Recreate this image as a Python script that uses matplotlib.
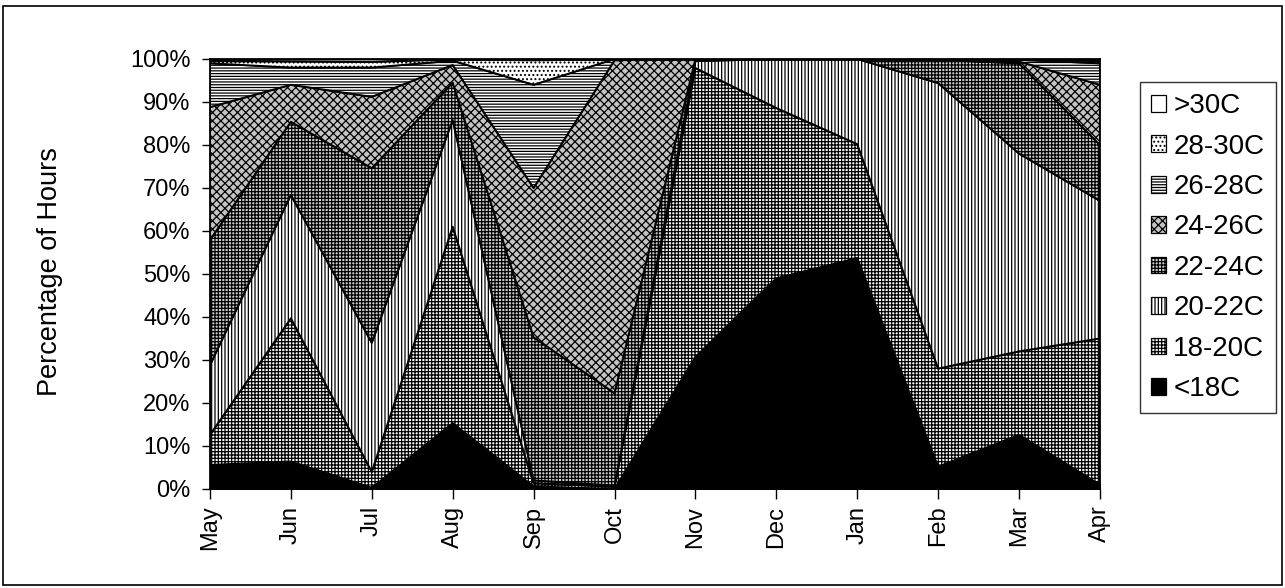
import numpy as np
import matplotlib
matplotlib.use("Agg")
import matplotlib.pyplot as plt
from matplotlib.patches import Patch, Rectangle
from matplotlib.ticker import PercentFormatter

plt.rcParams["font.family"] = ["Liberation Sans", "DejaVu Sans"]
plt.rcParams["hatch.linewidth"] = 0.9
plt.rcParams["hatch.color"] = "black"

months = ["May", "Jun", "Jul", "Aug", "Sep", "Oct",
          "Nov", "Dec", "Jan", "Feb", "Mar", "Apr"]

# share of hours (%) in each temperature band, per month
below_18 = [5.6, 6.4, 0.3, 15.3, 0.6, 0.0, 30.7, 49.0, 53.7, 5.2, 12.6, 1.0]
band_18_20 = [7.0, 33.3, 3.7, 45.7, 0.8, 0.5, 67.2, 39.6, 26.5, 22.8, 19.4, 34.0]
band_20_22 = [16.2, 28.7, 30.0, 24.8, 0.6, 0.3, 1.6, 11.4, 19.8, 66.4, 46.0, 32.0]
band_22_24 = [29.1, 17.0, 40.6, 8.7, 33.3, 21.5, 0.5, 0.0, 0.0, 5.4, 21.0, 13.0]
band_24_26 = [30.9, 8.6, 16.6, 4.1, 34.7, 77.4, 0.0, 0.0, 0.0, 0.2, 0.4, 14.0]
band_26_28 = [10.2, 4.0, 6.8, 1.0, 24.0, 0.3, 0.0, 0.0, 0.0, 0.0, 0.4, 5.0]
band_28_30 = [0.6, 1.5, 1.4, 0.4, 5.8, 0.0, 0.0, 0.0, 0.0, 0.0, 0.2, 0.6]
above_30 = [0.4, 0.5, 0.6, 0.0, 0.2, 0.0, 0.0, 0.0, 0.0, 0.0, 0.0, 0.4]

labels = ["<18C", "18-20C", "20-22C", "22-24C", "24-26C", "26-28C", "28-30C", ">30C"]
series = [below_18, band_18_20, band_20_22, band_22_24,
          band_24_26, band_26_28, band_28_30, above_30]

# fill style per band: (face colour, hatch)
styles = [
    ("black", None),
    ("white", "+++++"),
    ("white", "|||||"),
    ("#d0d0d0", "+++++"),
    ("#c4c4c4", "xxxx"),
    ("white", "------"),
    ("white", "...."),
    ("white", None),
]

fig = plt.figure(figsize=(12.85, 5.88), dpi=100)
ax = fig.add_axes([0.1634, 0.1684, 0.6926, 0.7313])

x = np.arange(len(months))
data = np.array(series, dtype=float)
data = data / data.sum(axis=0) * 100.0
cum = np.vstack([np.zeros(len(months)), np.cumsum(data, axis=0)])

for i, (face, hatch) in enumerate(styles):
    ax.fill_between(x, cum[i], cum[i + 1], facecolor=face, hatch=hatch,
                    edgecolor="black", linewidth=1.4, zorder=2 + i * 0.01)

ax.set_xlim(0, len(months) - 1)
ax.set_ylim(0, 100)
ax.set_xticks(x)
ax.set_xticklabels(months, rotation=90, fontsize=17)
ax.set_yticks(np.arange(0, 101, 10))
ax.yaxis.set_major_formatter(PercentFormatter(decimals=0))
ax.tick_params(axis="y", labelsize=17, length=6, width=1, pad=8)
ax.tick_params(axis="x", length=7, width=1, pad=5)
for s in ax.spines.values():
    s.set_linewidth(1.3)
    s.set_zorder(5)

fig.text(50 / 1285, 1 - 272 / 588, "Percentage of Hours", rotation=90,
         ha="center", va="center", fontsize=19.5)

handles = [Patch(facecolor=f, hatch=h, edgecolor="black", linewidth=0.9)
           for f, h in styles]
leg = fig.legend(handles[::-1], labels[::-1], loc="upper left",
                 bbox_to_anchor=(1140 / 1285, 1 - 82 / 588),
                 fontsize=20, frameon=True, fancybox=False,
                 edgecolor="black", handlelength=0.55, handleheight=0.55,
                 handletextpad=0.25, labelspacing=0.52, borderpad=0.4,
                 borderaxespad=0)
leg.get_frame().set_linewidth(1.0)

# outer chart border
fig.patches.append(Rectangle((3 / 1285, 3 / 588), 1279 / 1285, 579 / 588,
                             transform=fig.transFigure, fill=False,
                             edgecolor="black", linewidth=1.2))

fig.savefig("out.png", dpi=100)
